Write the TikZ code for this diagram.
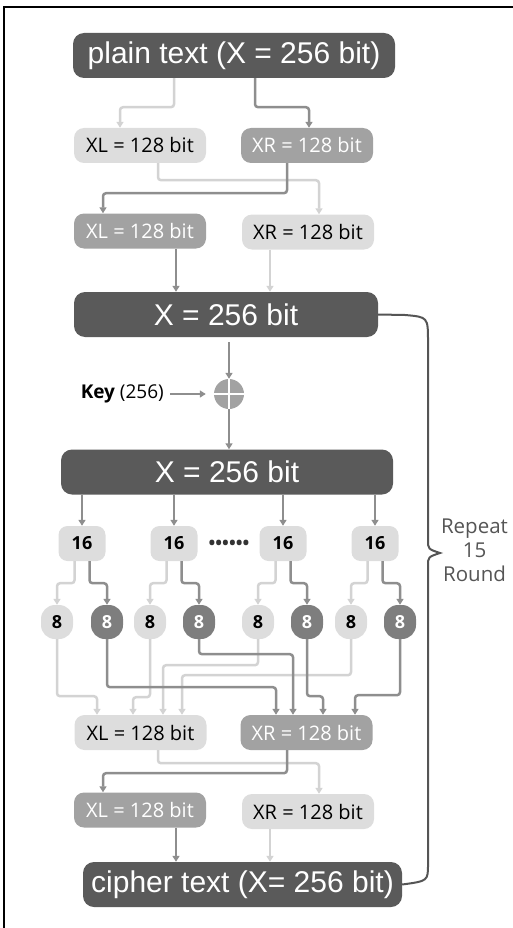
\documentclass[tikz,border=0pt]{standalone}
\usepackage{fontspec}
\setmainfont{Open Sans}
\newfontfamily\arialfont{Liberation Sans}
\usetikzlibrary{arrows.meta}

\begin{document}
\begin{tikzpicture}[x=1pt,y=-1pt,
    bigbox/.style={fill=boxdark,text=white,rounded corners=11pt,minimum height=45pt,inner sep=0pt,font=\arialfont\fontsize{30}{30}\selectfont},
    halfbox/.style={rounded corners=10pt,minimum width=132pt,minimum height=35pt,inner sep=0pt,font=\fontsize{20}{20}\selectfont},
    litebox/.style={halfbox,fill=boxlite},
    midbox/.style={halfbox,fill=boxmid,text=white},
    sixteen/.style={fill=boxlite,rounded corners=9pt,minimum width=47pt,minimum height=35pt,inner sep=0pt,font=\bfseries\fontsize{18}{18}\selectfont},
    eightlite/.style={fill=boxlite,rounded corners=14pt,minimum width=32pt,minimum height=34pt,inner sep=0pt,font=\bfseries\fontsize{18}{18}\selectfont},
    eightdark/.style={eightlite,fill=eightgray,text=white},
    litewire/.style={draw=wirelite,line width=2.5pt,rounded corners=3pt,-{Triangle[width=7pt,length=6pt]}},
    darkwire/.style={draw=wiredark,line width=2.5pt,rounded corners=3pt,-{Triangle[width=7pt,length=6pt]}}]
        \definecolor{boxdark}{HTML}{5A5A5A}
        \definecolor{boxmid}{HTML}{A2A2A2}
        \definecolor{boxlite}{HTML}{DDDDDD}
        \definecolor{eightgray}{HTML}{7E7E7E}
        \definecolor{wirelite}{HTML}{D3D3D3}
        \definecolor{wiredark}{HTML}{8E8E8E}
        \definecolor{bracegray}{HTML}{555555}
        \useasboundingbox (0,0) rectangle (512,928);
        \draw[line width=2pt] (4,930) -- (4,7) -- (514,7);
        % top half swap
        \node[bigbox,minimum width=322pt] (pt) at (234,55.5) {plain text (X = 256 bit)};
        \node[litebox] (xl1) at (140,145.5) {XL = 128 bit};
        \node[midbox] (xr1) at (307,145.5) {XR = 128 bit};
        \node[midbox] (xl2) at (140,231) {XL = 128 bit};
        \node[litebox] (xr2) at (308,232) {XR = 128 bit};
        \node[bigbox,minimum width=304pt] (x1) at (226,314.5) {X = 256 bit};
        \draw[litewire] ([xshift=-60pt]pt.south) -- ++(0,29) -| ([xshift=-20pt]xl1.north);
        \draw[darkwire] ([xshift=21pt]pt.south) -- ++(0,29) -| ([xshift=2pt]xr1.north);
        \draw[litewire] ([xshift=18pt]xl1.south) -- ++(0,17) -| ([xshift=11pt]xr2.north);
        \draw[darkwire] ([xshift=-20pt]xr1.south) -- ++(0,30) -| ([xshift=-37pt]xl2.north);
        \draw[darkwire] ([xshift=36pt]xl2.south) -- ([xshift=36pt]xl2.south |- x1.north);
        \draw[litewire] ([xshift=-38pt]xr2.south) -- ([xshift=-38pt]xr2.south |- x1.north);
        % key mixing
        \node[circle,fill=boxmid,minimum size=30pt,inner sep=0pt] (xor) at (229,394) {};
        \draw[white,line width=2pt] (xor.north) -- (xor.south) (xor.west) -- (xor.east);
        \node[anchor=east,font=\fontsize{19}{19}\selectfont,inner sep=0pt] (key) at (164,394) {\textbf{Key} (256)};
        \draw[darkwire,shorten <=6pt,shorten >=8pt] (key) -- (xor);
        \draw[darkwire,shorten <=5pt] (x1.south -| xor) -- (xor);
        \node[bigbox,minimum width=332pt] (x2) at (227,472) {X = 256 bit};
        \draw[darkwire] (xor) -- (xor |- x2.north);
        % split into 16 and 8
        \node[font=\bfseries\fontsize{18}{18}\selectfont,text=black!80] (dots) at (229,545) {••••••};
        \foreach \i/\x in {1/82,2/174,3/283,4/375} {
            \node[sixteen] (s\i) at (\x,543.5) {16};
            \draw[darkwire] (s\i |- x2.south) -- (s\i);
        }
        \foreach \j/\x in {1/57,3/150,5/258,7/351}
            \node[eightlite] (e\j) at (\x,622) {8};
        \foreach \j/\x in {2/107,4/199,6/307,8/400}
            \node[eightdark] (e\j) at (\x,622) {8};
        \foreach \i/\l/\d in {1/1/2,2/3/4,3/5/6,4/7/8} {
            \draw[litewire] ([xshift=-7.5pt]s\i.south) -- ++(0,22) -| (e\l.north);
            \draw[darkwire] ([xshift=7.5pt]s\i.south) -- ++(0,22) -| (e\d.north);
        }
        \node[litebox] (xl3) at (140.5,732.5) {XL = 128 bit};
        \node[midbox] (xr3) at (306.5,732.5) {XR = 128 bit};
        \foreach \j/\dy/\dx in {1/57/-43.5,3/58/-7.5,5/26/22.5,7/36/41.5}
            \draw[litewire] (e\j.south) -- ++(0,\dy) -| ([xshift=\dx pt]xl3.north);
        \foreach \j/\dy/\dx in {2/48/-30.5,4/15/-13.5,6/57/16.5,8/56/48.5}
            \draw[darkwire] (e\j.south) -- ++(0,\dy) -| ([xshift=\dx pt]xr3.north);
        % bottom half swap
        \node[midbox] (xl4) at (140,810) {XL = 128 bit};
        \node[litebox] (xr4) at (308,811.5) {XR = 128 bit};
        \node[bigbox,minimum width=319pt] (ct) at (242.5,884.5) {cipher text (X= 256 bit)};
        \draw[litewire] ([xshift=17.5pt]xl3.south) -- ++(0,13) -| ([xshift=11pt]xr4.north);
        \draw[darkwire] ([xshift=-19.5pt]xr3.south) -- ++(0,23) -| ([xshift=-37pt]xl4.north);
        \draw[darkwire] ([xshift=36pt]xl4.south) -- ([xshift=36pt]xl4.south |- ct.north);
        \draw[litewire] ([xshift=-38pt]xr4.south) -- ([xshift=-38pt]xr4.south |- ct.north);
        % repeat brace
        \draw[bracegray,line width=2pt] (x1.east) -- (405,315) .. controls (428,317) .. (428,342)
            -- (428,540) .. controls (428,549) .. (440,553) .. controls (428,557) .. (428,566)
            -- (428,864) .. controls (428,881) .. (ct.east);
        \node[text=bracegray,align=center,font=\fontsize{20.5}{24}\selectfont] (rep) at (474.5,550) {Repeat\\15\\Round};
    \end{tikzpicture}
\end{document}
